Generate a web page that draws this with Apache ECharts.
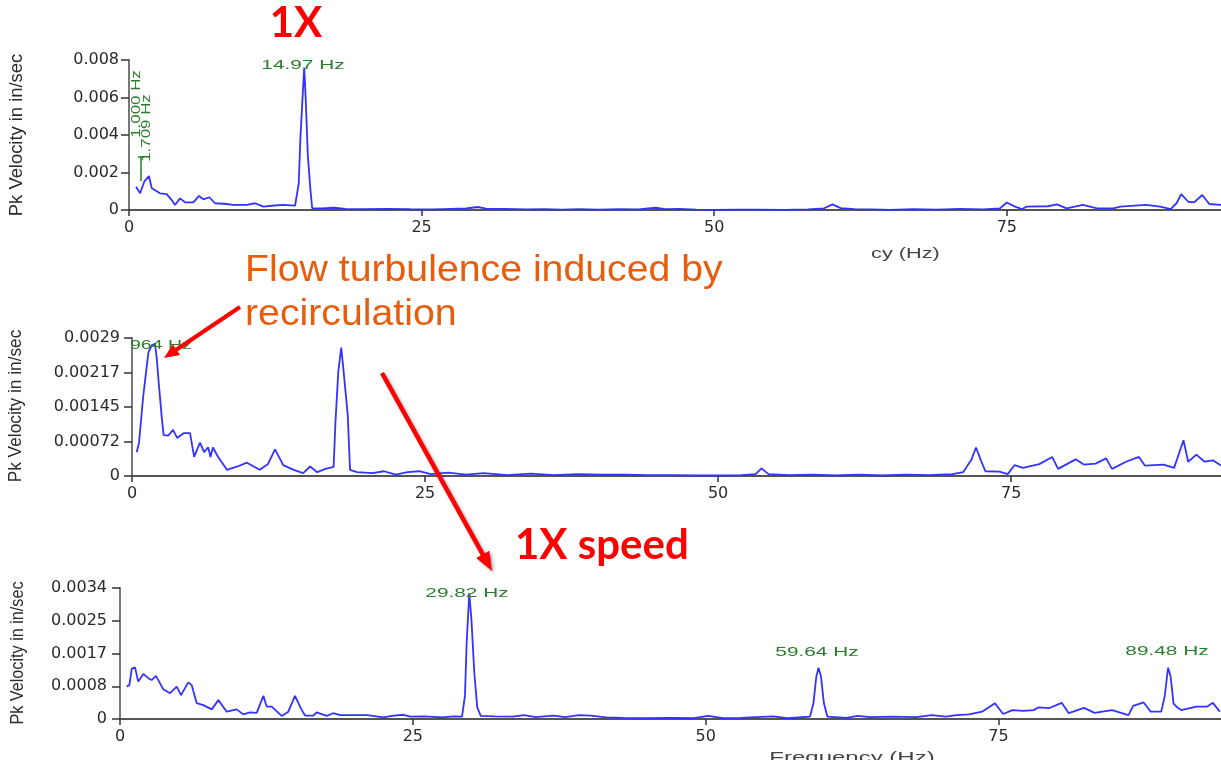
<!DOCTYPE html>
<html><head><meta charset="utf-8">
<script src="https://cdn.jsdelivr.net/npm/echarts/dist/echarts.min.js"></script>
<style>html,body{margin:0;padding:0;background:#fff;overflow:hidden}#c{width:1221px;height:760px}</style>
</head><body><div id="c"></div>
<script>
// ---- data (Hz, Pk velocity in/sec) ----
const topFreq = [0.6,0.95,1.3,1.7,1.95,2.65,3.22,3.65,3.93,4.36,4.79,5.5,5.98,6.35,6.87,7.35,8.35,8.9,10.06,10.77,11.48,12.4,13.2,14.19,14.35,14.5,14.65,14.82,14.97,15.1,15.28,15.5,15.65,16.5,17.5,18.5,20,22,24,26,27.5,28.8,29.8,30.5,32,34,35.5,37,38.5,40,42,43.5,45,45.8,47,48.5,50,52,54,56,58,59.4,60.1,60.8,62,63.5,65,67,69,71,73,74.4,75.0,75.7,76.3,76.7,78.5,79.3,80.1,81.5,82.7,84.1,84.7,86.9,88.1,89.0,89.5,89.9,90.5,91.0,91.7,92.3,93.4];
const topVel  = [0.00124,0.00089,0.00151,0.00181,0.00116,0.00089,0.00085,0.00053,0.00027,0.00062,0.00041,0.00041,0.00075,0.00057,0.00068,0.00036,0.00032,0.00027,0.00027,0.00036,0.00018,0.00024,0.00027,0.00023,0.0003,0.0014,0.0039,0.0059,0.0076,0.0059,0.0029,0.0011,0.0001,0.00008,0.00012,0.00006,0.00005,0.00006,0.00004,0.00003,0.00006,0.00008,0.00016,0.00007,0.00006,0.00003,0.00005,0.00002,0.00005,0.00002,0.00004,0.00003,0.00012,0.00004,0.00006,0.00002,0.00001,0.00002,0.00002,0.00001,0.00003,0.00009,0.0003,0.0001,0.00005,0.00003,0.00001,0.00004,0.00002,0.00006,0.00003,0.00008,0.0004,0.00018,0.00005,0.00018,0.0002,0.0003,0.00009,0.00027,0.00009,0.00009,0.00018,0.00027,0.00018,0.00005,0.00036,0.00085,0.00044,0.00041,0.0008,0.00032,0.00027];

const midFreq = [0.4,0.6,0.95,1.4,1.7,1.96,2.1,2.3,2.55,2.7,3.1,3.5,3.85,4.4,4.95,5.3,5.8,6.15,6.5,6.7,6.9,7.35,8.1,9.0,9.8,10.9,11.6,12.2,12.9,13.8,14.6,15.2,15.8,16.5,17.2,17.35,17.6,17.85,18.05,18.4,18.6,19.2,20.5,21.5,22.5,23.5,24.5,25.5,27,28.5,30,32,34,36,38,40,42,44,46,48,50,52,53.2,53.7,54.3,56,58,60,62,64,66,68,70,70.9,71.6,72.0,72.4,72.8,74,74.7,75.3,76,77.4,78.5,79,80.5,81.2,82.2,83.1,83.6,84.8,85.9,86.4,88,88.9,89.7,90.1,90.8,91.5,92.2,92.9];
const midVel  = [0.0005,0.0007,0.00166,0.0026,0.00275,0.00278,0.0025,0.0019,0.0012,0.00086,0.00085,0.00097,0.0008,0.0009,0.0009,0.0004,0.0007,0.0005,0.0006,0.0004,0.0006,0.0004,0.00013,0.0002,0.00028,0.00013,0.00025,0.00056,0.00023,0.00013,0.00006,0.0002,0.00008,0.00015,0.00019,0.0011,0.0022,0.0027,0.0022,0.0013,0.00013,0.00008,0.00006,0.0001,0.00003,0.00008,0.0001,0.00004,0.00007,0.00003,0.00006,0.00002,0.00005,0.00002,0.00004,0.00003,0.00003,0.00002,0.00002,0.00001,0.00001,0.00002,0.00004,0.00016,0.00004,0.00002,0.00003,0.00001,0.00003,0.00001,0.00003,0.00002,0.00004,0.00008,0.00034,0.0006,0.00034,0.0001,0.00009,0.00004,0.00023,0.00017,0.00025,0.0004,0.00015,0.00035,0.00024,0.00026,0.00037,0.00015,0.0003,0.0004,0.00022,0.00024,0.00017,0.00075,0.0003,0.00045,0.0003,0.00033,0.00022];

const botFreq = [0.57,0.8,1.0,1.28,1.56,1.99,2.42,2.7,3.07,3.7,4.27,4.84,5.21,5.83,6.12,6.55,7.12,7.83,8.4,9.11,9.96,10.53,11.1,11.67,12.24,12.53,12.95,13.8,14.37,14.94,15.52,15.8,16.5,16.8,17.65,18.2,18.8,21.1,22.5,23.2,24.2,24.8,26,27.5,28.5,29.2,29.45,29.6,29.82,30.0,30.25,30.5,30.8,32,33.5,34.5,35.5,37,38,39.2,40.2,41.5,43,45,47,49,50.2,51.5,53,55.7,57,58.9,59.2,59.45,59.64,59.85,60.1,60.4,62,63,64,66,68,69.3,70.5,71.4,72.5,73.6,74.7,75.4,76.2,77.1,78.0,78.4,79.3,80.4,81.0,82.3,83.2,84.7,86.1,86.5,87.4,88.0,88.9,89.2,89.48,89.7,89.95,90.2,90.6,91.9,92.8,93.3,93.9];
const botVel  = [0.00084,0.00088,0.0013,0.00134,0.00097,0.00117,0.00106,0.00101,0.00112,0.00077,0.00067,0.00084,0.00062,0.00095,0.00088,0.00041,0.00036,0.00025,0.00049,0.00019,0.00025,0.00012,0.00017,0.00016,0.0006,0.00032,0.00032,0.00008,0.00019,0.0006,0.00023,0.00009,0.00009,0.00017,0.00008,0.00015,0.0001,0.0001,0.00004,0.00008,0.00011,0.00006,0.00007,0.00004,0.00007,0.00006,0.0006,0.002,0.00326,0.0026,0.0012,0.0003,0.00008,0.00007,0.00006,0.0001,0.00005,0.00009,0.00005,0.0001,0.00009,0.00004,0.00003,0.00002,0.00003,0.00002,0.00008,0.00002,0.00003,0.00007,0.00002,0.00006,0.0004,0.0011,0.00133,0.0011,0.0004,0.00006,0.00003,0.00008,0.00005,0.00006,0.00005,0.0001,0.00006,0.0001,0.00012,0.00019,0.00041,0.00013,0.00023,0.00021,0.00023,0.0003,0.00028,0.00042,0.00015,0.00029,0.00016,0.00023,0.0001,0.00034,0.00043,0.00019,0.00019,0.0006,0.00133,0.0011,0.0004,0.00032,0.00023,0.00032,0.00032,0.00042,0.00019];

const xTickStep = 25;
const topYTicks = ['0','0.002','0.004','0.006','0.008'];
const midYTicks = ['0','0.00072','0.00145','0.00217','0.0029'];
const botYTicks = ['0','0.0008','0.0017','0.0025','0.0034'];
const yMax = [0.008, 0.0029, 0.0034];
const xMax = [93.3, 92.9, 94.0];

// ---- build chart ----
const pairs = (f, v) => f.map((x, i) => [x, v[i]]);
const tickSets = [topYTicks, midYTicks, botYTicks];
const grids = [
  {left:129, top:60, width:1092, height:150},
  {left:132, top:338, width:1089, height:138},
  {left:120, top:588, width:1101, height:131}
];
const axisFont = {fontFamily:'DejaVu Sans', fontSize:16, color:'#2a2a2a'};
const xAxes = grids.map((g, i) => ({
  type:'value', gridIndex:i, min:0, max:xMax[i], interval:xTickStep,
  axisLine:{show:true, onZero:false, lineStyle:{color:'#555', width:2}},
  axisTick:{show:true, length:6, lineStyle:{color:'#333', width:1.5}},
  splitLine:{show:false},
  axisLabel:Object.assign({margin:10, showMaxLabel:false,
    formatter:v => (Math.abs(v % xTickStep) < 1e-6 ? String(v) : '')}, axisFont)
}));
const yAxes = grids.map((g, i) => ({
  type:'value', gridIndex:i, min:0, max:yMax[i], interval:yMax[i]/4,
  axisLine:{show:true, onZero:false, lineStyle:{color:'#777', width:2}},
  axisTick:{show:true, length:8, lineStyle:{color:'#333', width:1.5}},
  splitLine:{show:false},
  axisLabel:Object.assign({margin:[10,12,13][i],
    formatter:v => tickSets[i][Math.round(v/(yMax[i]/4))] || ''}, axisFont)
}));
const lineStyle = {color:'#3333ff', width:1.8};
const series = [pairs(topFreq, topVel), pairs(midFreq, midVel), pairs(botFreq, botVel)].map((d, i) => ({
  type:'line', xAxisIndex:i, yAxisIndex:i, data:d, showSymbol:false, symbol:'none',
  lineStyle:lineStyle, z:3, clip:true
}));

// ---- annotations ----
const green = '#2a7d2a';
function txt(text, x, y, o) {
  o = o || {};
  return {type:'text', x:x, y:y, z:100, rotation:o.rot||0, scaleX:o.sx||1, scaleY:o.sy||1,
    style:{text:text, fill:o.fill||'#333', font:o.font||'13px "Liberation Sans", Arial',
      align:o.align||'center', verticalAlign:o.va||'middle'}};
}
function arrow(x1, y1, x2, y2, len, w, lw, shadow) {
  const dx = x2-x1, dy = y2-y1, L = Math.hypot(dx, dy), ux = dx/L, uy = dy/L;
  const bx = x2-ux*len, by = y2-uy*len, px = -uy, py = ux;
  const sh = shadow ? {shadowBlur:3, shadowColor:'rgba(0,0,0,0.35)', shadowOffsetX:2, shadowOffsetY:2} : {};
  return [
    {type:'line', z:100, shape:{x1:x1, y1:y1, x2:bx+ux*2, y2:by+uy*2}, style:Object.assign({stroke:'#ff0000', lineWidth:lw}, sh)},
    {type:'polygon', z:100, shape:{points:[[x2,y2],[bx+px*w/2,by+py*w/2],[bx-px*w/2,by-py*w/2]]}, style:Object.assign({fill:'#ff0000'}, sh)}
  ];
}
const gfont = '13px "Liberation Sans", Arial';
const nfont = '18px "Liberation Sans", Arial';
const graphic = [
  txt('Pk Velocity in in/sec', 17, 135, {rot:Math.PI/2, font:nfont, fill:'#2a2a2a', sx:1.02}),
  txt('Pk Velocity in in/sec', 16, 406, {rot:Math.PI/2, font:nfont, fill:'#2a2a2a', sx:0.96}),
  txt('Pk Velocity in in/sec', 18, 653, {rot:Math.PI/2, font:nfont, fill:'#2a2a2a', sx:0.9}),
  txt('cy (Hz)', 871, 254, {align:'left', font:'15px "Liberation Sans", Arial', fill:'#444', sx:1.45}),
  txt('Frequency (Hz)', 852, 758, {font:'15px "Liberation Sans", Arial', fill:'#444', sx:1.6}),
  txt('14.97 Hz', 303, 65, {font:gfont, fill:green, sx:1.6}),
  txt('1.000 Hz', 136, 104, {rot:Math.PI/2, font:gfont, fill:green, sx:1.3}),
  txt('1.709 Hz', 146, 128, {rot:Math.PI/2, font:gfont, fill:green, sx:1.3}),
  {type:'line', z:100, shape:{x1:141, y1:157, x2:141, y2:181}, style:{stroke:green, lineWidth:1.5}},
  {type:'line', z:100, shape:{x1:138, y1:157, x2:144, y2:157}, style:{stroke:green, lineWidth:1.5}},
  txt('964 Hz', 130, 345, {align:'left', font:gfont, fill:green, sx:1.5}),
  txt('29.82 Hz', 467, 593, {font:gfont, fill:green, sx:1.6}),
  txt('59.64 Hz', 817, 652, {font:gfont, fill:green, sx:1.6}),
  txt('89.48 Hz', 1167, 651, {font:gfont, fill:green, sx:1.6}),
  txt('1X', 296, 23, {font:'bold 42px Lato', fill:'#ff0000'}),
  txt('Flow turbulence induced by', 245, 271, {align:'left', font:'36px "Liberation Sans", Arial', fill:'#e85d0c', sx:1.09}),
  txt('recirculation', 245, 315, {align:'left', font:'36px "Liberation Sans", Arial', fill:'#e85d0c', sx:1.09}),
  txt('1X speed', 515, 545, {align:'left', font:'bold 42px Lato', fill:'#ff0000'})
].concat(arrow(240, 307, 164, 358, 15, 13, 4, false), arrow(382, 373, 492, 571, 19, 15, 4.5, true));

const chart = echarts.init(document.getElementById('c'), null, {renderer:'canvas'});
chart.setOption({
  animation:false, backgroundColor:'#fff',
  grid:grids, xAxis:xAxes, yAxis:yAxes, series:series, graphic:graphic
});
</script></body></html>
